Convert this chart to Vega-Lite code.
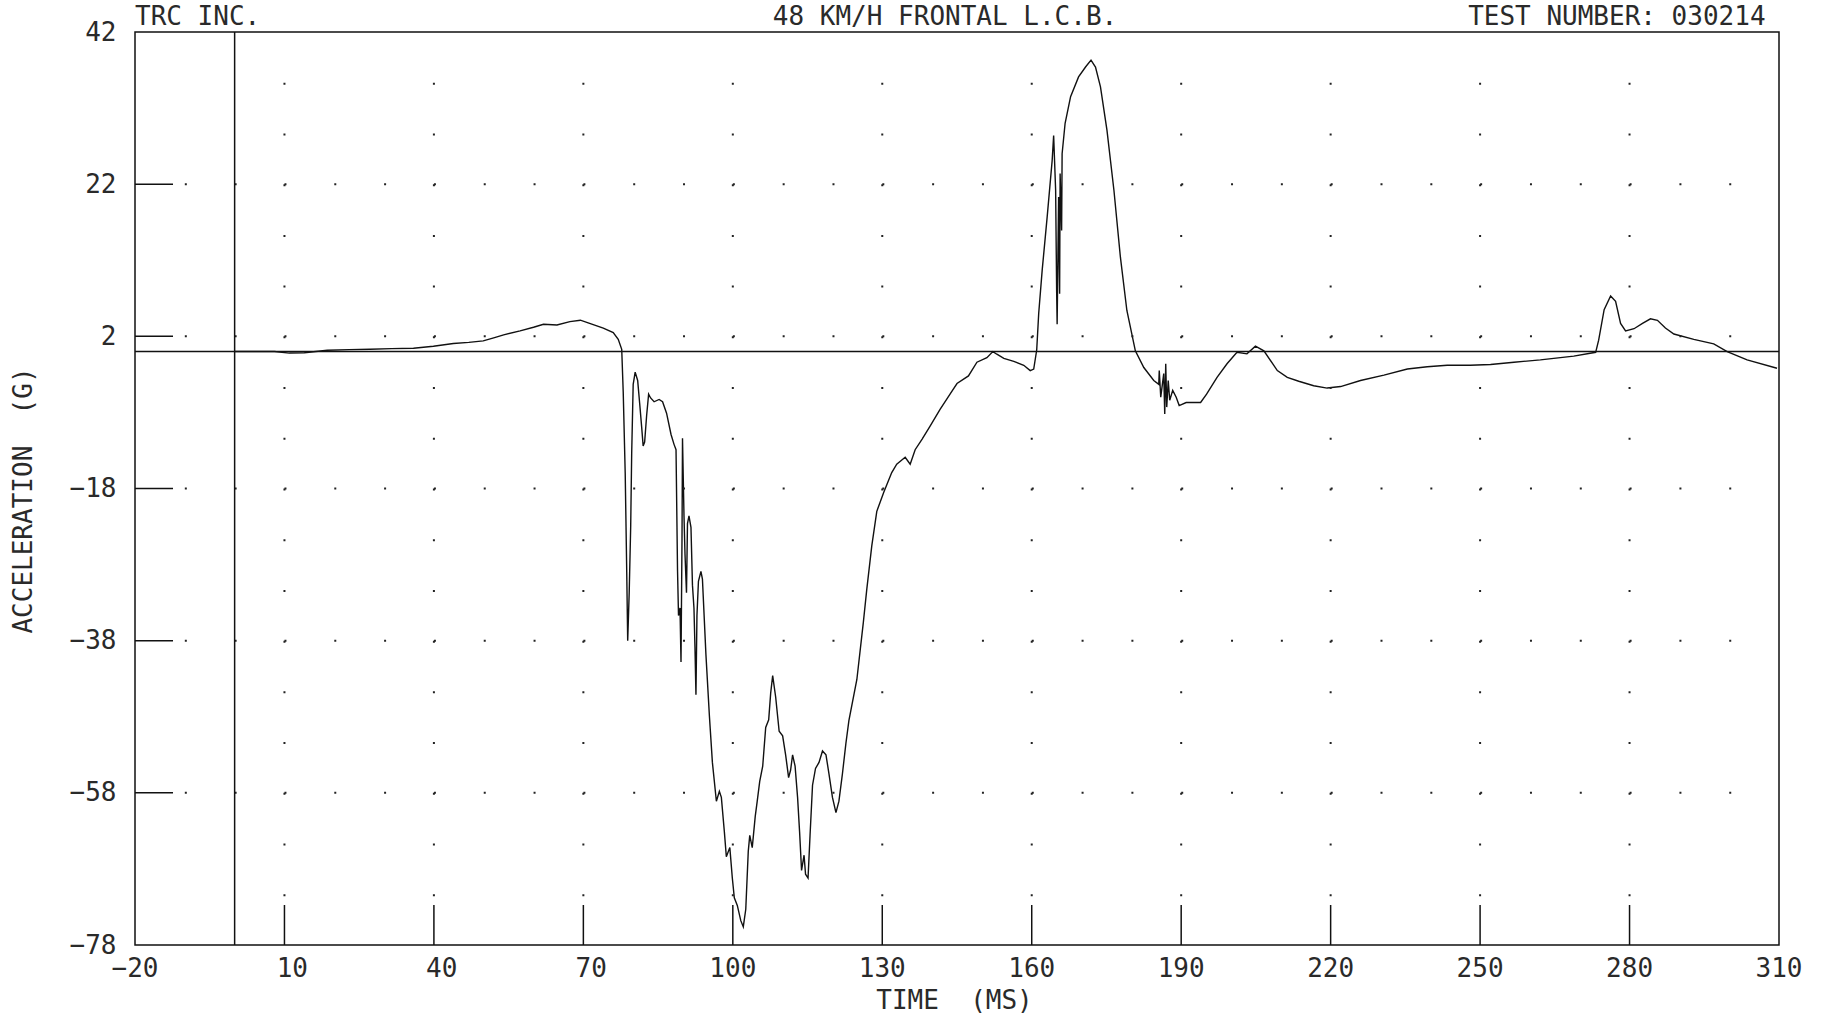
{
  "$schema": "https://vega.github.io/schema/vega-lite/v6.json",
  "width": 1644,
  "height": 913,
  "autosize": {"type": "none"},
  "padding": {"left": 135, "top": 32, "right": 45, "bottom": 72},
  "background": "white",
  "config": {
    "view": {"stroke": "#111", "strokeWidth": 1.5},
    "font": "DejaVu Sans Mono",
    "axis": {"domain": false, "ticks": false, "tickSize": 0, "grid": false, "labelFont": "DejaVu Sans Mono", "labelFontSize": 26, "labelColor": "#2a2a2a", "titleFont": "DejaVu Sans Mono", "titleFontSize": 26, "titleFontWeight": "normal", "titleColor": "#2a2a2a", "labelFlush": false, "labelOverlap": false},
    "axisX": {"labelAlign": "right", "labelOffset": 23, "labelPadding": 10, "labelBaseline": "top", "titleX": 819, "titleY": 55, "titleBaseline": "middle", "titleAlign": "center"},
    "axisY": {"labelAlign": "right", "labelPadding": 19, "labelBaseline": "middle", "titleX": -112, "titleY": 468, "titleAngle": -90, "titleBaseline": "middle", "titleAlign": "center"}
  },
  "datasets": {
    "accel": [
      {"t": 0, "g": 0}, {"t": 8, "g": 0}, {"t": 11, "g": -0.2}, {"t": 14, "g": -0.15}, {"t": 18.6, "g": 0.18}, {"t": 23, "g": 0.25}, {"t": 27.2, "g": 0.31}, {"t": 31.5, "g": 0.38}, {"t": 35.9, "g": 0.44}, {"t": 39.9, "g": 0.7}, {"t": 43.9, "g": 1.05}, {"t": 47, "g": 1.2}, {"t": 49.9, "g": 1.4}, {"t": 52, "g": 1.8}, {"t": 54, "g": 2.19}, {"t": 57.3, "g": 2.72}, {"t": 60, "g": 3.2}, {"t": 62, "g": 3.59}, {"t": 64.7, "g": 3.5}, {"t": 67.3, "g": 3.94}, {"t": 69.4, "g": 4.12}, {"t": 71.4, "g": 3.68}, {"t": 74, "g": 3.07}, {"t": 76, "g": 2.5}, {"t": 77, "g": 1.6}, {"t": 77.7, "g": 0.3},
      {"t": 78, "g": -5.3}, {"t": 78.4, "g": -16}, {"t": 78.7, "g": -28.7}, {"t": 78.9, "g": -38}, {"t": 79.2, "g": -31.7}, {"t": 79.5, "g": -23}, {"t": 79.7, "g": -13.4}, {"t": 80, "g": -4.3}, {"t": 80.4, "g": -2.7}, {"t": 80.9, "g": -3.8}, {"t": 81.3, "g": -6.8}, {"t": 81.7, "g": -9.9}, {"t": 82, "g": -12.4}, {"t": 82.3, "g": -11.9}, {"t": 82.7, "g": -8.4}, {"t": 83.1, "g": -5.6}, {"t": 83.5, "g": -6.1}, {"t": 84.2, "g": -6.6}, {"t": 85.2, "g": -6.3}, {"t": 85.9, "g": -6.6}, {"t": 86.7, "g": -8.1}, {"t": 87.6, "g": -10.9}, {"t": 88.2, "g": -12.2}, {"t": 88.6, "g": -12.9},
      {"t": 88.9, "g": -28.7}, {"t": 89.1, "g": -34.7}, {"t": 89.4, "g": -33.7}, {"t": 89.6, "g": -40.8}, {"t": 89.8, "g": -24.6}, {"t": 89.9, "g": -11.4}, {"t": 90.2, "g": -21.6}, {"t": 90.4, "g": -26.6}, {"t": 90.7, "g": -31.7}, {"t": 90.9, "g": -22.6}, {"t": 91.2, "g": -21.6}, {"t": 91.6, "g": -23.1}, {"t": 91.9, "g": -30.7}, {"t": 92.2, "g": -33.7}, {"t": 92.4, "g": -38.8}, {"t": 92.6, "g": -45.1}, {"t": 92.8, "g": -34.7}, {"t": 93.1, "g": -30.2}, {"t": 93.6, "g": -28.9}, {"t": 93.9, "g": -29.9}, {"t": 94.6, "g": -39.8}, {"t": 95.3, "g": -47.9}, {"t": 95.9, "g": -54}, {"t": 96.7, "g": -59.1}, {"t": 97.3, "g": -57.8}, {"t": 97.7, "g": -58.6}, {"t": 98.3, "g": -63.1}, {"t": 98.7, "g": -66.4}, {"t": 99.4, "g": -65.2}, {"t": 99.9, "g": -69.2}, {"t": 100.3, "g": -71.8}, {"t": 100.9, "g": -72.8}, {"t": 101.6, "g": -74.8}, {"t": 102.1, "g": -75.6}, {"t": 102.6, "g": -73.3}, {"t": 103.1, "g": -65.7}, {"t": 103.4, "g": -63.6}, {"t": 103.9, "g": -65.2}, {"t": 104.5, "g": -61.1}, {"t": 104.9, "g": -59.1}, {"t": 105.4, "g": -56.5}, {"t": 106, "g": -54.5}, {"t": 106.6, "g": -49.4}, {"t": 107.2, "g": -48.4}, {"t": 107.6, "g": -44.9}, {"t": 108, "g": -42.6}, {"t": 108.6, "g": -45.4}, {"t": 109.3, "g": -49.9}, {"t": 110, "g": -50.5}, {"t": 110.6, "g": -53}, {"t": 111.2, "g": -56}, {"t": 111.6, "g": -55}, {"t": 112, "g": -53}, {"t": 112.5, "g": -54.5}, {"t": 113, "g": -58.6}, {"t": 113.4, "g": -63.1}, {"t": 113.8, "g": -68.2}, {"t": 114.3, "g": -66.2}, {"t": 114.6, "g": -68.7}, {"t": 115.1, "g": -69.2}, {"t": 115.5, "g": -63.6}, {"t": 116, "g": -57}, {"t": 116.6, "g": -54.8}, {"t": 117.3, "g": -54}, {"t": 118, "g": -52.5}, {"t": 118.7, "g": -53}, {"t": 119.3, "g": -55.5}, {"t": 120, "g": -58.6}, {"t": 120.7, "g": -60.6}, {"t": 121.3, "g": -59.1}, {"t": 122, "g": -55.5}, {"t": 122.7, "g": -51.5}, {"t": 123.3, "g": -48.5}, {"t": 124.9, "g": -43.1}, {"t": 126.2, "g": -35.6}, {"t": 126.9, "g": -31.2}, {"t": 127.9, "g": -25.5}, {"t": 128.9, "g": -21}, {"t": 130.3, "g": -18.5}, {"t": 131.9, "g": -15.9}, {"t": 132.9, "g": -14.8}, {"t": 134.6, "g": -13.9}, {"t": 135.6, "g": -14.8}, {"t": 136.6, "g": -12.9}, {"t": 138, "g": -11.5}, {"t": 139.6, "g": -9.8}, {"t": 141.6, "g": -7.6}, {"t": 143.7, "g": -5.5}, {"t": 145, "g": -4.2}, {"t": 147.3, "g": -3.2}, {"t": 149, "g": -1.4}, {"t": 151, "g": -0.8}, {"t": 152.2, "g": 0}, {"t": 153, "g": -0.35}, {"t": 154.4, "g": -0.9}, {"t": 156.4, "g": -1.3}, {"t": 158.4, "g": -1.8}, {"t": 159.7, "g": -2.5}, {"t": 160.4, "g": -2.3},
      {"t": 161, "g": 0.2}, {"t": 161.4, "g": 5}, {"t": 162.1, "g": 10.7}, {"t": 163.1, "g": 17.7}, {"t": 164.1, "g": 25.1}, {"t": 164.4, "g": 28.4}, {"t": 164.8, "g": 21.2}, {"t": 165, "g": 8}, {"t": 165.1, "g": 3.6}, {"t": 165.4, "g": 20.3}, {"t": 165.6, "g": 7.6}, {"t": 165.7, "g": 23.4}, {"t": 166, "g": 15.9}, {"t": 166.1, "g": 26}, {"t": 166.7, "g": 30}, {"t": 167.8, "g": 33.5}, {"t": 169.4, "g": 36.1}, {"t": 170.8, "g": 37.4}, {"t": 171.9, "g": 38.3}, {"t": 172.8, "g": 37.4}, {"t": 173.8, "g": 34.8}, {"t": 175.1, "g": 29.1}, {"t": 176.5, "g": 21.2}, {"t": 177.8, "g": 12.4}, {"t": 179.1, "g": 5.4}, {"t": 180.8, "g": 0.1}, {"t": 182.5, "g": -2.1}, {"t": 184.5, "g": -3.8}, {"t": 185.5, "g": -4.3}, {"t": 185.6, "g": -2.5}, {"t": 185.9, "g": -6}, {"t": 186.5, "g": -2.9}, {"t": 186.7, "g": -8.2}, {"t": 186.9, "g": -1.6}, {"t": 187.1, "g": -7.3}, {"t": 187.4, "g": -3.8}, {"t": 187.7, "g": -6.4}, {"t": 188.3, "g": -5.1}, {"t": 189, "g": -6}, {"t": 189.6, "g": -7.1}, {"t": 191, "g": -6.7}, {"t": 193.9, "g": -6.7}, {"t": 195.1, "g": -5.6}, {"t": 197.2, "g": -3.4}, {"t": 199.2, "g": -1.6}, {"t": 201.2, "g": -0.1}, {"t": 203.2, "g": -0.3}, {"t": 204.9, "g": 0.7}, {"t": 206.6, "g": 0.1}, {"t": 209.3, "g": -2.5}, {"t": 211.3, "g": -3.4}, {"t": 213.6, "g": -3.9}, {"t": 216.6, "g": -4.5}, {"t": 219.3, "g": -4.8}, {"t": 222, "g": -4.6}, {"t": 226, "g": -3.8}, {"t": 230.7, "g": -3.1}, {"t": 235.4, "g": -2.3}, {"t": 239.4, "g": -2}, {"t": 243.4, "g": -1.8}, {"t": 248, "g": -1.8}, {"t": 252.1, "g": -1.7}, {"t": 256.8, "g": -1.4}, {"t": 262.1, "g": -1.1}, {"t": 268.8, "g": -0.6}, {"t": 273.2, "g": -0.1}, {"t": 273.8, "g": 1.5}, {"t": 274.9, "g": 5.5}, {"t": 276.2, "g": 7.3}, {"t": 277.2, "g": 6.6}, {"t": 278.2, "g": 3.7}, {"t": 279.2, "g": 2.7}, {"t": 280.9, "g": 3}, {"t": 282.6, "g": 3.7}, {"t": 284.2, "g": 4.3}, {"t": 285.6, "g": 4.1}, {"t": 287.2, "g": 3.1}, {"t": 288.9, "g": 2.3}, {"t": 292.9, "g": 1.6}, {"t": 296.9, "g": 1}, {"t": 299.6, "g": 0}, {"t": 303.6, "g": -1.1}, {"t": 309.6, "g": -2.2}
    ],
    "xmajor": [{"t": 10}, {"t": 40}, {"t": 70}, {"t": 100}, {"t": 130}, {"t": 160}, {"t": 190}, {"t": 220}, {"t": 250}, {"t": 280}],
    "ymajor": [{"g": 22}, {"g": 2}, {"g": -18}, {"g": -38}, {"g": -58}]
  },
  "layer": [
    {
      "data": {"name": "accel"},
      "mark": {"type": "line", "color": "#111", "strokeWidth": 1.4},
      "encoding": {
        "x": {"field": "t", "type": "quantitative", "scale": {"domain": [-20, 310], "nice": false, "zero": false}, "axis": {"title": "TIME \u00a0(MS)", "values": [-20, 10, 40, 70, 100, 130, 160, 190, 220, 250, 280, 310]}},
        "y": {"field": "g", "type": "quantitative", "scale": {"domain": [-78, 42], "nice": false, "zero": false}, "axis": {"title": "ACCELERATION \u00a0(G)", "values": [-78, -58, -38, -18, 2, 22, 42]}}
      }
    },
    {
      "data": {"name": "xmajor"},
      "mark": {"type": "rule", "color": "#222", "strokeWidth": 2, "strokeDash": [2, 48.72]},
      "encoding": {"x": {"field": "t", "type": "quantitative"}, "y": {"datum": 35.3333}, "y2": {"datum": -78}}
    },
    {
      "data": {"name": "ymajor"},
      "mark": {"type": "rule", "color": "#222", "strokeWidth": 2, "strokeDash": [2, 47.82]},
      "encoding": {"y": {"field": "g", "type": "quantitative"}, "x": {"datum": -10}, "x2": {"datum": 310}}
    },
    {
      "data": {"name": "xmajor"},
      "mark": {"type": "rule", "color": "#111", "strokeWidth": 1.5},
      "encoding": {"x": {"field": "t", "type": "quantitative"}, "y": {"datum": -78}, "y2": {"datum": -72.74}}
    },
    {
      "data": {"name": "ymajor"},
      "mark": {"type": "rule", "color": "#111", "strokeWidth": 1.5},
      "encoding": {"y": {"field": "g", "type": "quantitative"}, "x": {"datum": -20}, "x2": {"datum": -12.37}}
    },
    {
      "data": {"values": [{"t": 0}]},
      "mark": {"type": "rule", "color": "#111", "strokeWidth": 1.5},
      "encoding": {"x": {"field": "t", "type": "quantitative"}}
    },
    {
      "data": {"values": [{"g": 0}]},
      "mark": {"type": "rule", "color": "#111", "strokeWidth": 1.5},
      "encoding": {"y": {"field": "g", "type": "quantitative"}}
    },
    {
      "data": {"values": [{"note": "TRC INC.", "t": -20}]},
      "mark": {"type": "text", "align": "left", "baseline": "alphabetic", "dy": -7, "fontSize": 26, "color": "#2a2a2a", "font": "DejaVu Sans Mono"},
      "encoding": {"x": {"field": "t", "type": "quantitative"}, "y": {"datum": 42}, "text": {"field": "note"}}
    },
    {
      "data": {"values": [{"note": "48 KM/H FRONTAL L.C.B.", "t": 142.6}]},
      "mark": {"type": "text", "align": "center", "baseline": "alphabetic", "dy": -7, "fontSize": 26, "color": "#2a2a2a", "font": "DejaVu Sans Mono"},
      "encoding": {"x": {"field": "t", "type": "quantitative"}, "y": {"datum": 42}, "text": {"field": "note"}}
    },
    {
      "data": {"values": [{"note": "TEST NUMBER: 030214", "t": 307.3}]},
      "mark": {"type": "text", "align": "right", "baseline": "alphabetic", "dy": -7, "fontSize": 26, "color": "#2a2a2a", "font": "DejaVu Sans Mono"},
      "encoding": {"x": {"field": "t", "type": "quantitative"}, "y": {"datum": 42}, "text": {"field": "note"}}
    }
  ]
}
